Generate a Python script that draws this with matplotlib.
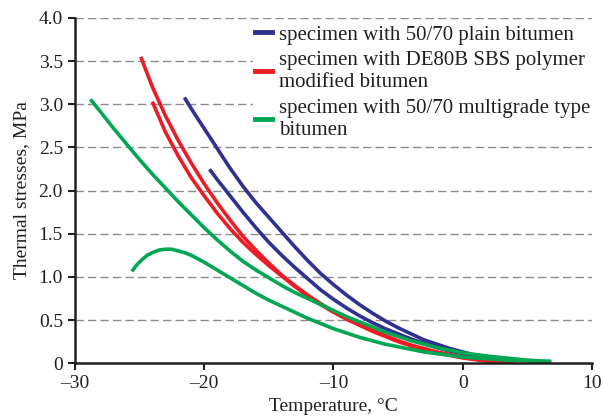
import matplotlib.pyplot as plt

# temperature (deg C) / thermal stress (MPa)
blue_a_t = [-21.45, -21, -20, -19, -18, -17, -16, -15, -14, -13, -12, -11, -10, -9, -8, -7,
            -6, -5, -4, -3, -2, -1, 0, 1, 2, 3, 3.4]
blue_a_s = [3.06, 2.95, 2.72, 2.49, 2.26, 2.05, 1.86, 1.69, 1.52, 1.35, 1.19, 1.04, 0.91, 0.79,
            0.68, 0.58, 0.49, 0.41, 0.34, 0.27, 0.22, 0.17, 0.13, 0.09, 0.06, 0.03, 0.02]
blue_b_t = [-19.5, -19, -18, -17, -16, -15, -14, -13, -12, -11, -10, -9, -8, -7, -6, -5, -4,
            -3, -2, -1, 0, 1, 2, 3, 3.4]
blue_b_s = [2.23, 2.13, 1.94, 1.75, 1.57, 1.40, 1.25, 1.11, 0.98, 0.85, 0.74, 0.64, 0.55, 0.47,
            0.40, 0.34, 0.28, 0.23, 0.18, 0.14, 0.11, 0.08, 0.05, 0.03, 0.02]
red_a_t = [-24.85, -24, -23, -22, -21, -20, -19, -18, -17, -16, -15, -14, -13, -12, -11, -10,
           -9, -8, -7, -6, -5, -4, -3, -2, -1, 0, 1, 2, 3, 4]
red_a_s = [3.53, 3.20, 2.87, 2.58, 2.32, 2.08, 1.86, 1.66, 1.47, 1.31, 1.16, 1.02, 0.90, 0.79,
           0.69, 0.60, 0.52, 0.45, 0.38, 0.32, 0.26, 0.21, 0.17, 0.13, 0.10, 0.07, 0.05, 0.03,
           0.01, 0.0]
red_b_t = [-23.95, -23, -22, -21, -20, -19, -18, -17, -16, -15, -14, -13, -12, -11, -10, -9,
           -8, -7, -6, -5, -4, -3, -2, -1, 0, 1, 2, 3, 4]
red_b_s = [3.01, 2.68, 2.40, 2.15, 1.94, 1.74, 1.56, 1.40, 1.26, 1.13, 1.01, 0.89, 0.78, 0.68,
           0.59, 0.51, 0.44, 0.37, 0.31, 0.25, 0.20, 0.16, 0.12, 0.09, 0.06, 0.04, 0.02, 0.01,
           0.0]
green_a_t = [-28.7, -28, -27, -26, -25, -24, -23, -22, -21, -20, -19, -18, -17, -16, -15, -14,
             -13, -12, -11, -10, -9, -8, -7, -6, -5, -4, -3, -2, -1, 0, 1, 2, 3, 4, 5, 6, 6.7]
green_a_s = [3.04, 2.91, 2.72, 2.54, 2.36, 2.19, 2.03, 1.87, 1.72, 1.57, 1.43, 1.30, 1.18, 1.08,
             0.99, 0.90, 0.82, 0.75, 0.68, 0.61, 0.54, 0.48, 0.42, 0.36, 0.31, 0.26, 0.22, 0.18,
             0.15, 0.12, 0.10, 0.08, 0.065, 0.05, 0.035, 0.025, 0.02]
green_b_t = [-25.5, -25.2, -24.8, -24.4, -24.0, -23.5, -23.0, -22.5, -22.0, -21.5, -21.0, -20,
             -19, -18, -17, -16, -15, -14, -13, -12, -11, -10, -9, -8, -7, -6, -5, -4, -3, -2,
             -1, 0, 1, 2, 3, 4, 5, 6.7]
green_b_s = [1.08, 1.14, 1.20, 1.25, 1.28, 1.31, 1.32, 1.32, 1.30, 1.28, 1.25, 1.17, 1.08, 0.99,
             0.90, 0.81, 0.73, 0.66, 0.59, 0.52, 0.46, 0.40, 0.35, 0.30, 0.26, 0.22, 0.19, 0.16,
             0.13, 0.11, 0.09, 0.07, 0.06, 0.05, 0.04, 0.03, 0.025, 0.02]

labels = ["specimen with 50/70 plain bitumen",
          "specimen with DE80B SBS polymer\nmodified bitumen",
          "specimen with 50/70 multigrade type\nbitumen"]
x_ticks = [-30, -20, -10, 0, 10]
x_ticklabels = ["\u201330", "\u201320", "\u201310", "0", "10"]
y_ticks = [0, 0.5, 1.0, 1.5, 2.0, 2.5, 3.0, 3.5, 4.0]
y_ticklabels = ["0", "0.5", "1.0", "1.5", "2.0", "2.5", "3.0", "3.5", "4.0"]

BLUE = "#2E3192"
RED = "#ED1C24"
GREEN = "#00A651"
INK = "#231F20"

plt.rcParams['font.family'] = ['Liberation Serif', 'DejaVu Serif']

fig = plt.figure(figsize=(6.03, 4.16), dpi=100)
ax = fig.add_axes([0.124, 0.127, 0.858, 0.83])

lw = 2.6
ax.plot(blue_a_t, blue_a_s, color=BLUE, lw=lw, label=labels[0])
ax.plot(blue_b_t, blue_b_s, color=BLUE, lw=lw)
ax.plot(red_a_t, red_a_s, color=RED, lw=lw, label=labels[1])
ax.plot(red_b_t, red_b_s, color=RED, lw=lw)
ax.plot(green_a_t, green_a_s, color=GREEN, lw=lw, label=labels[2])
ax.plot(green_b_t, green_b_s, color=GREEN, lw=lw)

for y in y_ticks[1:]:
    ax.axhline(y, color="#8C8C8C", lw=1.0, ls=(0, (6, 3)), zorder=0)

ax.set_xlim(-30, 10)
ax.set_ylim(0, 4.0)
ax.set_xticks(x_ticks)
ax.set_xticklabels(x_ticklabels)
ax.set_yticks(y_ticks)
ax.set_yticklabels(y_ticklabels)
ax.tick_params(labelsize=14, width=1.5, length=5, color=INK, labelcolor=INK)
for side in ["top", "right"]:
    ax.spines[side].set_visible(False)
for side in ["left", "bottom"]:
    ax.spines[side].set_linewidth(1.8)
    ax.spines[side].set_color(INK)

ax.set_xlabel("Temperature, \u00b0C", fontsize=14, color=INK, labelpad=4)
ax.set_ylabel("Thermal stresses, MPa", fontsize=14, color=INK, labelpad=6)

leg = ax.legend(loc="upper right", bbox_to_anchor=(1.0, 0.985), fontsize=15,
                frameon=True, framealpha=1.0, edgecolor="none", fancybox=False,
                handlelength=0.85, handletextpad=0.3, labelspacing=0.3,
                borderpad=0.1, borderaxespad=0.0)
for t in leg.get_texts():
    t.set_color(INK)
    t.set_linespacing(1.25)
for h in leg.get_lines():
    h.set_linewidth(3.5)

fig.savefig("out.png", dpi=100)
